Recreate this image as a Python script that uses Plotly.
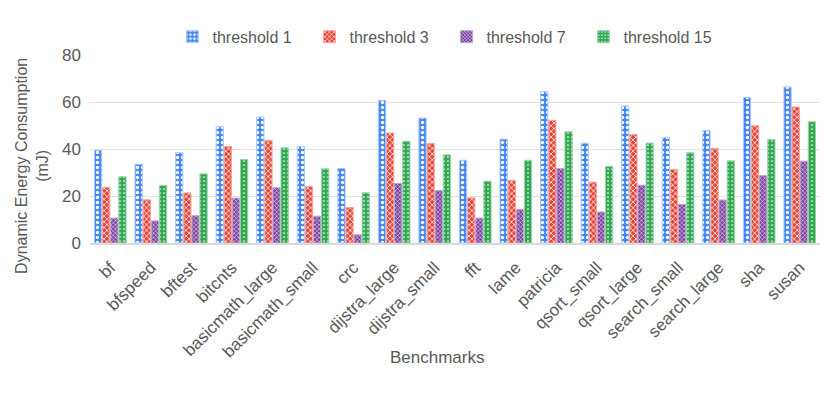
import plotly.graph_objects as go

benchmarks = ["bf", "bfspeed", "bftest", "bitcnts", "basicmath_large", "basicmath_small",
              "crc", "dijstra_large", "dijstra_small", "fft", "lame", "patricia",
              "qsort_small", "qsort_large", "search_small", "search_large", "sha", "susan"]

threshold_1 = [39.4, 33.5, 38.4, 49.5, 53.6, 41.1, 31.7, 60.7, 53.2, 35.2, 44.2, 64.4,
               42.5, 58.3, 44.8, 47.9, 61.9, 66.4]
threshold_3 = [23.7, 18.4, 21.3, 41.1, 43.7, 24.0, 15.1, 46.8, 42.4, 19.2, 26.7, 52.2,
               25.9, 46.2, 31.3, 40.3, 49.9, 57.9]
threshold_7 = [10.6, 9.4, 11.6, 19.1, 23.5, 11.4, 3.5, 25.4, 22.3, 10.6, 14.3, 31.7,
               13.2, 24.6, 16.4, 18.3, 28.7, 34.8]
threshold_15 = [28.2, 24.5, 29.4, 35.6, 40.5, 31.6, 21.4, 43.3, 37.5, 26.3, 35.2, 47.3,
                32.6, 42.5, 38.5, 35.0, 44.0, 51.6]

# name, values, fill, edge, pattern shape, pattern size, solidity
series = [
    ("threshold 1", threshold_1, "#4285F4", "#A8C6FA", ".", 5, 0.35),
    ("threshold 3", threshold_3, "#EA4335", "#F5A59D", "x", 4, 0.35),
    ("threshold 7", threshold_7, "#7B3F9E", "#BFA3D1", "x", 3, 0.3),
    ("threshold 15", threshold_15, "#34A853", "#98D5A9", ".", 4, 0.15),
]

fig = go.Figure()
for name, vals, col, edge, shape, psize, solid in series:
    fig.add_trace(go.Bar(
        x=benchmarks, y=vals, name=name,
        marker=dict(color=col, line=dict(color=edge, width=1),
                    pattern=dict(shape=shape, fgcolor="white", bgcolor=col,
                                 size=psize, solidity=solid, fillmode="replace")),
    ))

grey = "#595959"
# page body adds an 8px offset, margins are shifted to compensate
fig.update_layout(
    width=830, height=398,
    template="plotly_white",
    barmode="group", bargap=0.2, bargroupgap=0.1,
    margin=dict(l=82, r=18, t=39, b=163),
    font=dict(family="Liberation Sans, Arial, sans-serif", color=grey),
    legend=dict(orientation="h", x=0.113, xanchor="left", y=1.097, yanchor="middle",
                font=dict(size=16), entrywidth=92, itemwidth=30, tracegroupgap=0),
    showlegend=True,
    annotations=[
        dict(text="Dynamic Energy Consumption<br>(mJ)", textangle=-90,
             xref="paper", yref="paper", x=-0.0795, y=0.41, xanchor="center", yanchor="middle",
             showarrow=False, font=dict(size=16, color=grey)),
        dict(text="Benchmarks", xref="paper", yref="paper", x=0.475, y=-0.611,
             xanchor="center", yanchor="middle", showarrow=False,
             font=dict(size=17, color=grey)),
    ],
)
fig.update_yaxes(range=[0, 80], dtick=20, tickfont=dict(size=17, color=grey),
                 gridcolor="#e3e3e3", zeroline=False, automargin=False,
                 ticklabelstandoff=8)
fig.update_xaxes(tickangle=-45, tickfont=dict(size=17, color=grey), automargin=False,
                 showline=True, linecolor="#d9d9d9", linewidth=2, ticklabelstandoff=6)

fig.write_html("out.html")
